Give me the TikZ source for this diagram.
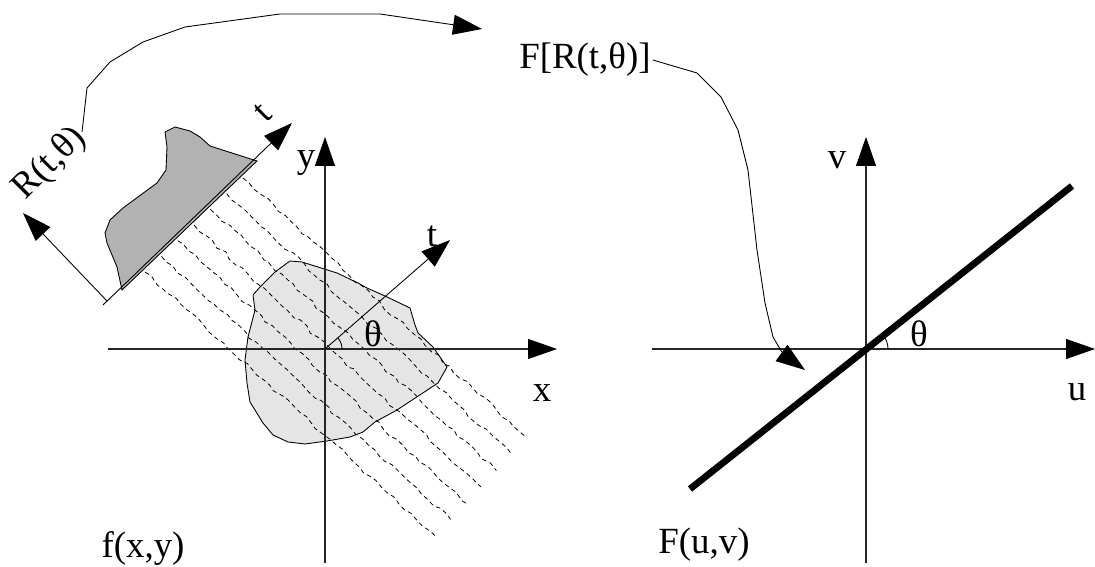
\documentclass[tikz,border=0pt]{standalone}
\usepackage{fontspec}
\setmainfont{Liberation Serif}
\usepackage{tikz}
\usetikzlibrary{arrows.meta,decorations.pathmorphing}

\begin{document}
\begin{tikzpicture}[x=0.2mm, y=-0.2mm,
  font=\fontsize{21}{24}\selectfont,
  lab/.style ={inner sep=1pt},
  ax/.style  ={black!85, line width=0.6pt, >={Triangle[length=5.8mm, width=4mm, black]}},
  conn/.style={black, line width=0.5pt},
  ray/.style ={black, line width=0.45pt, dash pattern=on 0.9mm off 0.7mm,
               decorate, decoration={random steps, segment length=1.6mm, amplitude=0.35mm}},
  >={Triangle[length=5.8mm, width=4mm]}]
\useasboundingbox (0,0) rectangle (1095,567);
\pgfmathsetseed{7}
\coordinate (o1) at (325,349);
\coordinate (o2) at (866,349);
\coordinate (p0) at (107,301);
\fill[black!10, draw=black, line width=0.5pt] (290,261) -- (302,262) -- (337,273) -- (358,283)
  -- (367,288) -- (385,296) -- (410,308) -- (415,325) -- (418,333) -- (433,347) -- (447,367)
  -- (438,383) -- (397,410) -- (375,422) -- (363,432) -- (350,437) -- (327,441) -- (305,444)
  -- (288,442) -- (273,435) -- (263,423) -- (250,402) -- (247,383) -- (245,360) -- (248,337)
  -- (255,310) -- (253,295) -- (260,287) -- (275,272) -- cycle;
\fill[black!30, draw=black, line width=0.5pt] (122,290) -- (257,161) -- (210,146) -- (200,137)
  -- (190,131) -- (175,127) -- (165,132) -- (167,147) -- (166,170) -- (157,183) -- (123,208)
  -- (110,220) -- (105,233) -- (107,243) -- (117,267) -- cycle;
\foreach \i in {0,...,6}
  \draw[ray] ({243-16.3*\i},{178+15.7*\i}) -- ({527-15.3*\i},{438+16.3*\i});
\draw[ax,->] (108,349) -- (557,349);
\draw[ax,->] (325,563) -- (325,137);
\draw[conn,->] (o1) -- (450,240);
\draw[conn] (o1) ++(3.4mm,0) arc[start angle=0, end angle=41, radius=3.4mm];
\draw[conn,->] (103,305) -- (292,123);
\draw[conn,->] (p0) -- (23,213);
\draw[ax,->] (652,349) -- (1095,349);
\draw[ax,->] (866,563) -- (866,137);
\draw[line width=1.35mm] (690,489) -- (1072,186);
\draw[conn] (o2) ++(4.4mm,0) arc[start angle=0, end angle=38, radius=4.4mm];
\node[lab, rotate=45] (rth) at (50,164) {R(t,θ)};
\node[lab, rotate=45] (tp) at (263,113) {t};
\node[lab] (ylab) at (306,163) {y};
\node[lab] (tlab) at (432,236) {t};
\node[lab] (th1) at (373,334) {θ};
\node[lab] (xlab) at (542,393) {x};
\node[lab] (fxy) at (143,548) {f(x,y)};
\node[lab] (fr) at (585,60) {F[R(t,θ)]};
\node[lab] (vlab) at (837,160) {v};
\node[lab] (th2) at (919,334) {θ};
\node[lab] (ulab) at (1077,392) {u};
\node[lab] (fuv) at (704,545) {F(u,v)};
\coordinate (top) at (482,29);
\coordinate (hit) at (805,370);
\draw[conn,->] (rth.east) -- (87,88) -- (110,62) -- (143,42) -- (185,27) -- (280,14)
  -- (380,14) -- (top);
\draw[conn,->] (fr.east) -- (697,73) -- (721,97) -- (738,130) -- (748,170) -- (757,250)
  -- (765,303) -- (773,337) -- (783,354) -- (hit);
\end{tikzpicture}
\end{document}
